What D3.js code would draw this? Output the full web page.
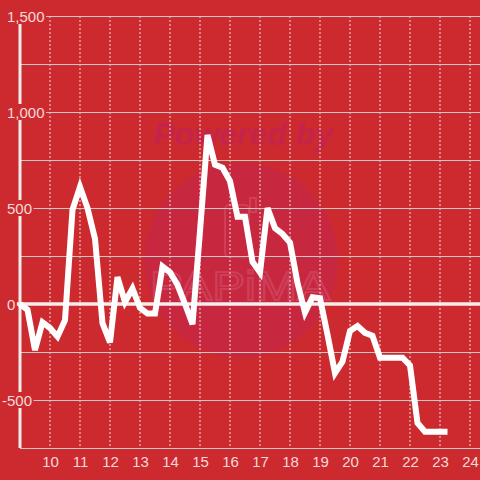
<!DOCTYPE html>
<html>
<head>
<meta charset="utf-8">
<script src="https://cdn.jsdelivr.net/npm/d3@7"></script>
<style>
body { margin: 0; background: #cd2a2f; }
svg text { font-family: "Liberation Sans", Arial, sans-serif; }
</style>
</head>
<body>
<svg width="480" height="480"></svg>
<script>
// quarter-hour readings
var hours = [9, 9.25, 9.5, 9.75, 10, 10.25, 10.5, 10.75, 11, 11.25, 11.5, 11.75,
	12, 12.25, 12.5, 12.75, 13, 13.25, 13.5, 13.75, 14, 14.25, 14.5, 14.75,
	15, 15.25, 15.5, 15.75, 16, 16.25, 16.5, 16.75, 17, 17.25, 17.5, 17.75,
	18, 18.25, 18.5, 18.75, 19, 19.25, 19.5, 19.75, 20, 20.25, 20.5, 20.75,
	21, 21.25, 21.5, 21.75, 22, 22.25, 22.5, 22.75, 23, 23.25];
var values = [0, -30, -240, -95, -125, -170, -85, 490, 610, 500, 340, -100,
	-200, 140, 10, 80, -20, -50, -50, 195, 165, 100, 0, -105,
	380, 880, 725, 710, 640, 455, 455, 220, 165, 500, 395, 365,
	320, 110, -45, 35, 30, -160, -360, -300, -140, -115, -150, -165,
	-280, -280, -280, -280, -320, -620, -665, -665, -665, -665];

var xTicks = [10, 11, 12, 13, 14, 15, 16, 17, 18, 19, 20, 21, 22, 23, 24];
var yGrid = [1500, 1250, 1000, 750, 500, 250, -250, -500];
var yLabels = [1500, 1000, 500, 0, -500];

var bg = '#cd2a2f';
var svg = d3.select('svg');
var x = d3.scaleLinear().domain([9, 24 + 1 / 3]).range([20, 480]);
var y = d3.scaleLinear().domain([-750, 1500]).range([448, 16]);
var fmt = d3.format(',');

svg.append('rect').attr('width', 480).attr('height', 480).attr('fill', bg);

// faint watermark
var wm = svg.append('g');
wm.append('circle').attr('cx', 241).attr('cy', 260).attr('r', 97)
	.attr('fill', '#c4244f').attr('opacity', 0.55);
wm.append('text').attr('x', 243).attr('y', 145).attr('text-anchor', 'middle')
	.attr('font-size', 32).attr('font-weight', 'bold').attr('font-style', 'italic')
	.attr('fill', '#c4244a').text('Powered by');
wm.append('rect').attr('x', 225).attr('y', 205).attr('width', 24).attr('height', 52).attr('rx', 4)
	.attr('fill', 'none').attr('stroke', '#d65a72').attr('stroke-width', 2).attr('opacity', 0.45);
wm.append('rect').attr('x', 250).attr('y', 198).attr('width', 6).attr('height', 14)
	.attr('fill', 'none').attr('stroke', '#d65a72').attr('stroke-width', 2).attr('opacity', 0.45);
wm.append('text').attr('x', 150).attr('y', 300)
	.attr('font-size', 40).attr('textLength', 180).attr('lengthAdjust', 'spacingAndGlyphs')
	.attr('fill', 'none').attr('stroke', '#d65a72').attr('stroke-width', 2).attr('opacity', 0.45)
	.text('PAPiMA');

// vertical dotted grid
svg.append('g').selectAll('line').data(xTicks).join('line')
	.attr('x1', d => x(d)).attr('x2', d => x(d))
	.attr('y1', y(1500)).attr('y2', y(-750))
	.attr('stroke', '#e6dcdc').attr('stroke-width', 1).attr('stroke-dasharray', '2,2');

// horizontal grid
svg.append('g').selectAll('line').data(yGrid).join('line')
	.attr('x1', d => yLabels.indexOf(d) >= 0 ? 0 : 20).attr('x2', 480)
	.attr('y1', d => y(d) + 0.5).attr('y2', d => y(d) + 0.5)
	.attr('stroke', '#cfc6c6').attr('stroke-width', 1);

svg.append('line').attr('x1', 0).attr('x2', 480).attr('y1', y(0)).attr('y2', y(0))
	.attr('stroke', '#f6eeee').attr('stroke-width', 3.5);

// y axis line
svg.append('line').attr('x1', 20).attr('x2', 20).attr('y1', y(1500)).attr('y2', y(-750))
	.attr('stroke', '#f3ecec').attr('stroke-width', 3);

// x baseline
svg.append('line').attr('x1', 20).attr('x2', 480).attr('y1', y(-750) + 0.5).attr('y2', y(-750) + 0.5)
	.attr('stroke', '#cfc6c6').attr('stroke-width', 1);

// y labels with masks
var yl = svg.append('g').selectAll('g').data(yLabels).join('g');
yl.append('text')
	.attr('x', 7).attr('dx', d => d < 0 ? -5 : 0)
	.attr('y', d => y(d) + 6)
	.attr('font-size', 15).attr('fill', '#f3dada')
	.text(d => fmt(d).replace('\u2212', '-'));
yl.insert('rect', 'text')
	.attr('x', 0)
	.attr('y', d => y(d) - 8)
	.attr('height', 16)
	.attr('width', function () { var b = this.nextSibling.getBBox(); return b.x + b.width + 1.5; })
	.attr('fill', bg);

// x labels
var xAxis = d3.axisBottom(x).tickValues(xTicks).tickSize(0).tickPadding(0);
svg.append('g').attr('transform', 'translate(0,' + (y(-750) + 6) + ')')
	.call(xAxis)
	.call(g => g.select('.domain').remove())
	.call(g => g.selectAll('.tick text').attr('dy', '0.85em').attr('font-size', 15)
		.attr('font-family', '"Liberation Sans", Arial, sans-serif').attr('fill', '#f3dada'));

// data line
var line = d3.line().x((d, i) => x(hours[i])).y(d => y(d));
svg.append('path').datum(values)
	.attr('d', line)
	.attr('fill', 'none').attr('stroke', '#ffffff').attr('stroke-width', 6)
	.attr('stroke-linejoin', 'miter').attr('stroke-miterlimit', 4);
</script>
</body>
</html>
